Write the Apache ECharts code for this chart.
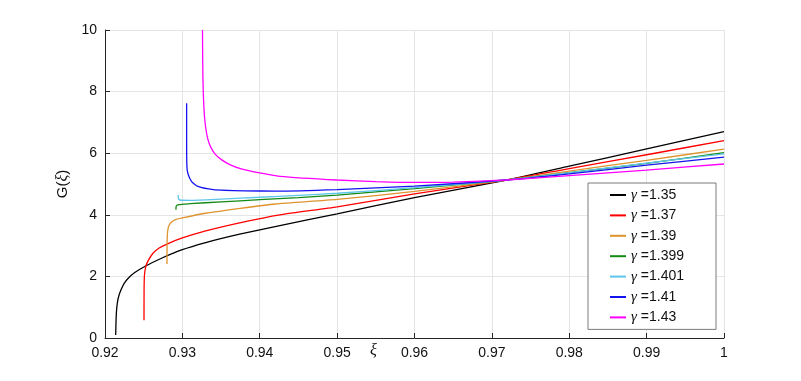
<!DOCTYPE html>
<html>
<head>
<meta charset="utf-8">
<script src="https://cdn.jsdelivr.net/npm/echarts@6/dist/echarts.min.js"></script>
<style>
  html, body { margin: 0; padding: 0; background: #fff; }
  #chart { width: 801px; height: 381px; }
</style>
</head>
<body>
<div id="chart"></div>
<script>
// G(xi) curves for several gamma values, points as [xi, G]
const gammas = ['1.35', '1.37', '1.39', '1.399', '1.401', '1.41', '1.43'];
const colors = ['#000000', '#FF0000', '#DE932E', '#138A13', '#5EC6EA', '#1414F0', '#FF00FF'];

const g135 = [
  [0.92138, 0.10], [0.92142, 0.50], [0.92148, 0.85], [0.9216, 1.15], [0.9218, 1.38],
  [0.9221, 1.58], [0.9225, 1.78], [0.9230, 1.94], [0.9238, 2.12], [0.9252, 2.33],
  [0.9273, 2.59], [0.9299, 2.86], [0.9329, 3.09], [0.9374, 3.37], [0.9426, 3.65],
  [0.95, 4.03], [0.96, 4.56], [0.9719, 5.13], [0.98, 5.58], [0.99, 6.14], [1.0, 6.70]
];
const g137 = [
  [0.92504, 0.58], [0.92505, 1.50], [0.92508, 1.95], [0.92515, 2.15], [0.9253, 2.35],
  [0.9256, 2.52], [0.9262, 2.75], [0.9270, 2.92], [0.9280, 3.05], [0.9299, 3.24],
  [0.9329, 3.47], [0.9374, 3.74], [0.9426, 4.00], [0.95, 4.26], [0.96, 4.68],
  [0.9719, 5.13], [0.98, 5.50], [0.99, 5.95], [1.0, 6.41]
];
const g139 = [
  [0.92801, 2.40], [0.92802, 3.00], [0.92806, 3.35], [0.92815, 3.55], [0.9283, 3.67],
  [0.9286, 3.77], [0.9292, 3.85], [0.9300, 3.90], [0.9330, 4.05], [0.9375, 4.21],
  [0.9420, 4.35], [0.95, 4.50], [0.96, 4.76], [0.9719, 5.13], [0.98, 5.42],
  [0.99, 5.77], [1.0, 6.13]
];
const g1399 = [
  [0.92917, 4.16], [0.9292, 4.28], [0.9295, 4.33], [0.9310, 4.36], [0.9350, 4.42],
  [0.9400, 4.49], [0.9450, 4.56], [0.95, 4.64], [0.96, 4.85], [0.9719, 5.13],
  [0.98, 5.37], [0.99, 5.67], [1.0, 6.02]
];
const g1401 = [
  [0.92947, 4.64], [0.9295, 4.52], [0.9297, 4.48], [0.9310, 4.47], [0.9350, 4.51],
  [0.9400, 4.57], [0.9450, 4.63], [0.95, 4.70], [0.96, 4.88], [0.9719, 5.13],
  [0.98, 5.37], [0.99, 5.68], [1.0, 5.98]
];
const g141 = [
  [0.93055, 7.62], [0.93055, 6.50], [0.93058, 5.60], [0.9307, 5.35], [0.9312, 5.08],
  [0.9320, 4.92], [0.9340, 4.82], [0.9380, 4.78], [0.9420, 4.77], [0.95, 4.82],
  [0.96, 4.93], [0.9719, 5.13], [0.98, 5.33], [0.99, 5.61], [1.0, 5.87]
];
const g143 = [
  [0.9326, 10.0], [0.93265, 8.5], [0.9328, 7.4], [0.9330, 6.85], [0.9333, 6.45],
  [0.9337, 6.18], [0.9342, 5.98], [0.9350, 5.80], [0.9362, 5.62], [0.9375, 5.50],
  [0.9400, 5.36], [0.9426, 5.25], [0.95, 5.13], [0.955, 5.08], [0.96, 5.05],
  [0.965, 5.06], [0.9719, 5.13], [0.98, 5.27], [0.99, 5.45], [1.0, 5.65]
];
const curves = [g135, g137, g139, g1399, g1401, g141, g143];

const xTicks = { min: 0.92, max: 1, step: 0.01 };
const yTicks = { min: 0, max: 10, step: 2 };

const AXIS_COL = '#262626';
const GRID_COL = '#E5E5E5';
const SANS = 'Liberation Sans';
const SERIF = 'Liberation Serif';

const chart = echarts.init(document.getElementById('chart'), null, { renderer: 'canvas' });

chart.setOption({
  animation: false,
  backgroundColor: '#fff',
  grid: { left: 105, right: 77, top: 30, bottom: 43 },
  xAxis: {
    type: 'value',
    min: xTicks.min, max: xTicks.max, interval: xTicks.step,
    axisLine: { lineStyle: { color: AXIS_COL, width: 1 } },
    axisTick: { inside: true, length: 5, lineStyle: { color: AXIS_COL } },
    axisLabel: {
      color: '#111', fontFamily: SANS, fontSize: 14, margin: 8,
      formatter: v => String(parseFloat(v.toFixed(2)))
    },
    splitLine: { show: true, lineStyle: { color: GRID_COL } }
  },
  yAxis: {
    type: 'value',
    min: yTicks.min, max: yTicks.max, interval: yTicks.step,
    name: '{n|G(}{x|ξ}{n|)}',
    nameLocation: 'middle',
    nameGap: 34,
    nameRotate: 90,
    nameTextStyle: {
      rich: {
        n: { fontFamily: SANS, fontSize: 15, color: '#111' },
        x: { fontFamily: SERIF, fontStyle: 'italic', fontSize: 16, color: '#111' }
      }
    },
    axisLine: { show: true, lineStyle: { color: AXIS_COL, width: 1 } },
    axisTick: { show: true, inside: true, length: 5, lineStyle: { color: AXIS_COL } },
    axisLabel: { color: '#111', fontFamily: SANS, fontSize: 14, margin: 8 },
    splitLine: { show: true, lineStyle: { color: GRID_COL } }
  },
  legend: {
    orient: 'vertical',
    left: 588, top: 183,
    padding: [4, 32, 4, 22],
    backgroundColor: '#fff',
    borderColor: '#7a7a7a',
    borderWidth: 1,
    borderRadius: 0,
    icon: 'rect',
    itemWidth: 16,
    itemHeight: 2,
    itemGap: 4.4,
    data: gammas,
    formatter: name => '{g|γ} =' + name,
    textStyle: {
      fontFamily: SANS, fontSize: 14, color: '#111', lineHeight: 16,
      rich: {
        g: { fontFamily: SERIF, fontStyle: 'italic', fontSize: 15, color: '#111' }
      }
    }
  },
  graphic: [{
    type: 'text',
    left: 370, top: 343,
    style: { text: 'ξ', fontFamily: SERIF, fontStyle: 'italic', fontSize: 16, fill: '#111' }
  }],
  series: curves.map((pts, i) => ({
    name: gammas[i],
    type: 'line',
    data: pts,
    symbol: 'none',
    showSymbol: false,
    smooth: 0.2,
    clip: true,
    color: colors[i],
    lineStyle: { color: colors[i], width: 1.3 }
  }))
});
</script>
</body>
</html>
